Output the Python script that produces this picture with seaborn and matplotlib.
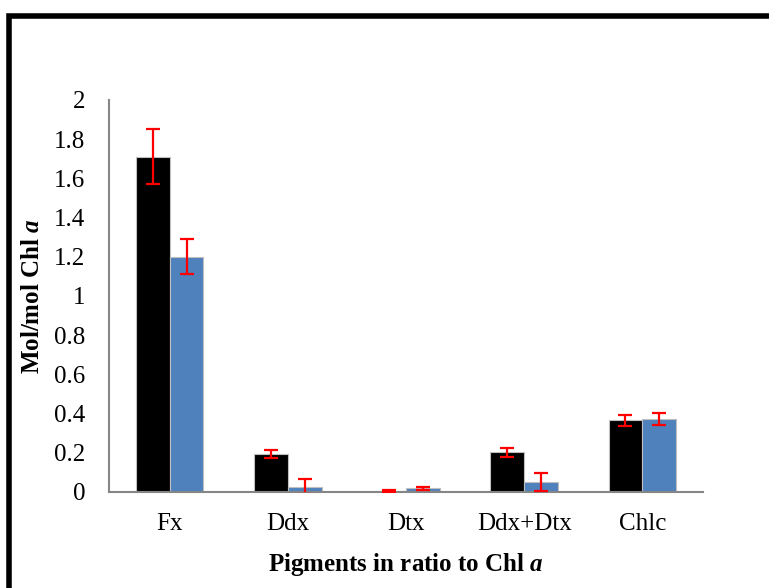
import matplotlib
matplotlib.use("Agg")
import matplotlib.pyplot as plt
import seaborn as sns
import pandas as pd
from matplotlib.patches import Rectangle
from matplotlib.ticker import FuncFormatter

categories = ["Fx", "Ddx", "Dtx", "Ddx+Dtx", "Chlc"]
series_names = ["S1", "S2"]
values_s1 = [1.71, 0.195, 0.005, 0.203, 0.366]
values_s2 = [1.20, 0.028, 0.019, 0.051, 0.373]
errors_s1 = [0.14, 0.019, 0.004, 0.023, 0.029]
errors_s2 = [0.09, 0.039, 0.007, 0.044, 0.030]

df = pd.DataFrame({
    "cat": categories * 2,
    "series": [series_names[0]] * len(categories) + [series_names[1]] * len(categories),
    "val": values_s1 + values_s2,
    "err": errors_s1 + errors_s2,
})

sns.set_theme(style="white")
plt.rcParams["font.family"] = ["Liberation Serif", "DejaVu Serif"]
plt.rcParams["mathtext.fontset"] = "custom"
plt.rcParams["mathtext.rm"] = "Liberation Serif"
plt.rcParams["mathtext.it"] = "Liberation Serif:italic"
plt.rcParams["mathtext.bf"] = "Liberation Serif:bold"
plt.rcParams["mathtext.bfit"] = "Liberation Serif:italic:bold"

fig = plt.figure(figsize=(7.69, 5.88), dpi=100)
ax = fig.add_axes([109/769, 1-492/588, (703-109)/769, (492-100)/588])

sns.barplot(data=df, x="cat", y="val", hue="series", order=categories,
            hue_order=series_names, palette=["#000000", "#4F81BD"],
            width=0.57, errorbar=None, legend=False, ax=ax,
            edgecolor="#BFBFBF", linewidth=0.8, saturation=1)

# error bars placed on the seaborn bar patches
bars = [p for p in ax.patches if isinstance(p, Rectangle)]
errs = errors_s1 + errors_s2
for p, e in zip(bars, errs):
    cx = p.get_x() + p.get_width() / 2
    h = p.get_height()
    ax.errorbar(cx, h, yerr=e, fmt="none", ecolor="#FF0000",
                elinewidth=1.6, capsize=5, capthick=1.6, zorder=5)

ax.set_ylim(0, 2)
ax.set_yticks([i * 0.2 for i in range(11)])
ax.yaxis.set_major_formatter(FuncFormatter(lambda v, pos: f"{v:g}"))
ax.tick_params(axis="both", length=0, labelsize=18, colors="black")
ax.tick_params(axis="y", pad=17)
ax.tick_params(axis="x", pad=15)
for s in ["top", "right"]:
    ax.spines[s].set_visible(False)
for s in ["left", "bottom"]:
    ax.spines[s].set_color("#868686")
    ax.spines[s].set_linewidth(1.5)

ax.set_xlabel("Pigments in ratio to Chl $\\mathbfit{a}$", fontsize=18,
              fontweight="bold", labelpad=12, color="black")
ax.set_ylabel("Mol/mol Chl $\\mathbfit{a}$", fontsize=18,
              fontweight="bold", labelpad=7, color="black")

# outer frame
fig.patches.append(Rectangle((9/769, -0.05), 1.1, 1.05 - 16/588,
                             transform=fig.transFigure, fill=False,
                             edgecolor="black", linewidth=4, zorder=10))

fig.savefig("out.png", dpi=100, facecolor="white")
